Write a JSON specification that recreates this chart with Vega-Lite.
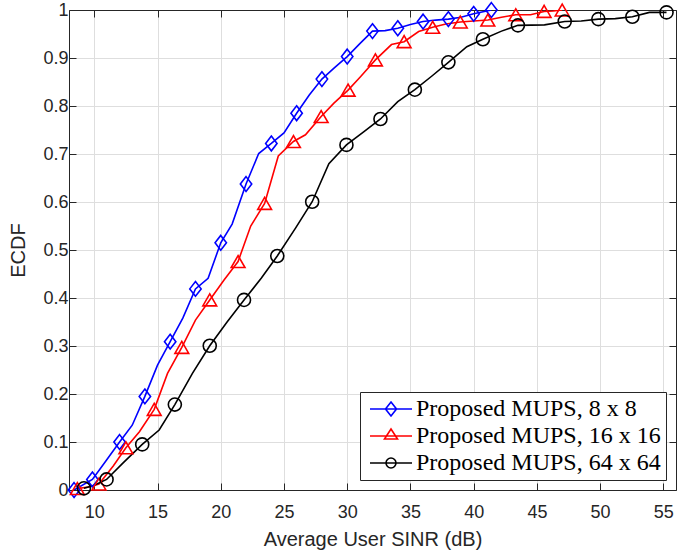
{
  "$schema": "https://vega.github.io/schema/vega-lite/v6.json",
  "width": 607,
  "height": 480,
  "autosize": {"type": "none"},
  "padding": {"left": 69, "top": 10, "right": 2, "bottom": 62},
  "background": "white",
  "config": {
    "view": {"stroke": null},
    "font": "Liberation Sans",
    "axis": {
      "labelFont": "Liberation Sans",
      "titleFont": "Liberation Sans",
      "labelColor": "#262626",
      "titleColor": "#262626",
      "domainColor": "#262626",
      "tickColor": "#262626",
      "labelFontSize": 18,
      "titleFontSize": 20,
      "titleFontWeight": "normal",
      "gridColor": "#dedede",
      "gridWidth": 1,
      "domainWidth": 1
    },
    "legend": {
      "orient": "bottom-right",
      "offset": 10,
      "labelFont": "Liberation Serif",
      "labelFontSize": 24,
      "labelColor": "black",
      "labelLimit": 500,
      "labelOffset": 27,
      "symbolSize": 196,
      "symbolStrokeWidth": 1.6,
      "strokeColor": "#262626",
      "fillColor": "white",
      "padding": 5,
      "rowPadding": 3
    }
  },
  "datasets": {
    "lines": [
      {"series": "Proposed MUPS, 8 x 8", "sinr": 8.4, "ecdf": 0.0},
      {"series": "Proposed MUPS, 8 x 8", "sinr": 9.85, "ecdf": 0.022},
      {"series": "Proposed MUPS, 8 x 8", "sinr": 10.9, "ecdf": 0.06},
      {"series": "Proposed MUPS, 8 x 8", "sinr": 12.0, "ecdf": 0.10},
      {"series": "Proposed MUPS, 8 x 8", "sinr": 13.0, "ecdf": 0.135},
      {"series": "Proposed MUPS, 8 x 8", "sinr": 14.0, "ecdf": 0.195},
      {"series": "Proposed MUPS, 8 x 8", "sinr": 15.0, "ecdf": 0.26},
      {"series": "Proposed MUPS, 8 x 8", "sinr": 16.0, "ecdf": 0.309},
      {"series": "Proposed MUPS, 8 x 8", "sinr": 17.0, "ecdf": 0.358},
      {"series": "Proposed MUPS, 8 x 8", "sinr": 18.0, "ecdf": 0.419},
      {"series": "Proposed MUPS, 8 x 8", "sinr": 19.0, "ecdf": 0.441},
      {"series": "Proposed MUPS, 8 x 8", "sinr": 20.0, "ecdf": 0.515},
      {"series": "Proposed MUPS, 8 x 8", "sinr": 20.9, "ecdf": 0.554},
      {"series": "Proposed MUPS, 8 x 8", "sinr": 22.0, "ecdf": 0.6375},
      {"series": "Proposed MUPS, 8 x 8", "sinr": 23.0, "ecdf": 0.701},
      {"series": "Proposed MUPS, 8 x 8", "sinr": 24.0, "ecdf": 0.722},
      {"series": "Proposed MUPS, 8 x 8", "sinr": 25.0, "ecdf": 0.744},
      {"series": "Proposed MUPS, 8 x 8", "sinr": 26.0, "ecdf": 0.785},
      {"series": "Proposed MUPS, 8 x 8", "sinr": 27.0, "ecdf": 0.823},
      {"series": "Proposed MUPS, 8 x 8", "sinr": 28.0, "ecdf": 0.856},
      {"series": "Proposed MUPS, 8 x 8", "sinr": 29.0, "ecdf": 0.88},
      {"series": "Proposed MUPS, 8 x 8", "sinr": 30.0, "ecdf": 0.903},
      {"series": "Proposed MUPS, 8 x 8", "sinr": 31.0, "ecdf": 0.93},
      {"series": "Proposed MUPS, 8 x 8", "sinr": 32.0, "ecdf": 0.956},
      {"series": "Proposed MUPS, 8 x 8", "sinr": 33.0, "ecdf": 0.957},
      {"series": "Proposed MUPS, 8 x 8", "sinr": 34.0, "ecdf": 0.962},
      {"series": "Proposed MUPS, 8 x 8", "sinr": 35.0, "ecdf": 0.97},
      {"series": "Proposed MUPS, 8 x 8", "sinr": 36.0, "ecdf": 0.976},
      {"series": "Proposed MUPS, 8 x 8", "sinr": 37.0, "ecdf": 0.979},
      {"series": "Proposed MUPS, 8 x 8", "sinr": 38.0, "ecdf": 0.981},
      {"series": "Proposed MUPS, 8 x 8", "sinr": 39.0, "ecdf": 0.985},
      {"series": "Proposed MUPS, 8 x 8", "sinr": 40.0, "ecdf": 0.992},
      {"series": "Proposed MUPS, 8 x 8", "sinr": 41.4, "ecdf": 1.0},
      {"series": "Proposed MUPS, 16 x 16", "sinr": 8.66, "ecdf": 0.003},
      {"series": "Proposed MUPS, 16 x 16", "sinr": 9.5, "ecdf": 0.006},
      {"series": "Proposed MUPS, 16 x 16", "sinr": 10.37, "ecdf": 0.0125},
      {"series": "Proposed MUPS, 16 x 16", "sinr": 11.5, "ecdf": 0.05},
      {"series": "Proposed MUPS, 16 x 16", "sinr": 12.5, "ecdf": 0.088},
      {"series": "Proposed MUPS, 16 x 16", "sinr": 13.57, "ecdf": 0.1215},
      {"series": "Proposed MUPS, 16 x 16", "sinr": 14.74, "ecdf": 0.168},
      {"series": "Proposed MUPS, 16 x 16", "sinr": 15.79, "ecdf": 0.243},
      {"series": "Proposed MUPS, 16 x 16", "sinr": 16.92, "ecdf": 0.297},
      {"series": "Proposed MUPS, 16 x 16", "sinr": 18.0, "ecdf": 0.354},
      {"series": "Proposed MUPS, 16 x 16", "sinr": 19.13, "ecdf": 0.396},
      {"series": "Proposed MUPS, 16 x 16", "sinr": 20.26, "ecdf": 0.4375},
      {"series": "Proposed MUPS, 16 x 16", "sinr": 21.37, "ecdf": 0.476},
      {"series": "Proposed MUPS, 16 x 16", "sinr": 22.37, "ecdf": 0.55},
      {"series": "Proposed MUPS, 16 x 16", "sinr": 23.47, "ecdf": 0.597},
      {"series": "Proposed MUPS, 16 x 16", "sinr": 24.55, "ecdf": 0.696},
      {"series": "Proposed MUPS, 16 x 16", "sinr": 25.75, "ecdf": 0.726},
      {"series": "Proposed MUPS, 16 x 16", "sinr": 26.7, "ecdf": 0.74},
      {"series": "Proposed MUPS, 16 x 16", "sinr": 27.94, "ecdf": 0.778},
      {"series": "Proposed MUPS, 16 x 16", "sinr": 28.95, "ecdf": 0.806},
      {"series": "Proposed MUPS, 16 x 16", "sinr": 30.07, "ecdf": 0.833},
      {"series": "Proposed MUPS, 16 x 16", "sinr": 31.05, "ecdf": 0.861},
      {"series": "Proposed MUPS, 16 x 16", "sinr": 32.23, "ecdf": 0.896},
      {"series": "Proposed MUPS, 16 x 16", "sinr": 33.5, "ecdf": 0.928},
      {"series": "Proposed MUPS, 16 x 16", "sinr": 34.5, "ecdf": 0.934},
      {"series": "Proposed MUPS, 16 x 16", "sinr": 35.65, "ecdf": 0.955},
      {"series": "Proposed MUPS, 16 x 16", "sinr": 36.76, "ecdf": 0.964},
      {"series": "Proposed MUPS, 16 x 16", "sinr": 37.8, "ecdf": 0.971},
      {"series": "Proposed MUPS, 16 x 16", "sinr": 38.94, "ecdf": 0.975},
      {"series": "Proposed MUPS, 16 x 16", "sinr": 40.0, "ecdf": 0.977},
      {"series": "Proposed MUPS, 16 x 16", "sinr": 41.12, "ecdf": 0.979},
      {"series": "Proposed MUPS, 16 x 16", "sinr": 42.2, "ecdf": 0.985},
      {"series": "Proposed MUPS, 16 x 16", "sinr": 43.33, "ecdf": 0.99},
      {"series": "Proposed MUPS, 16 x 16", "sinr": 44.5, "ecdf": 0.99},
      {"series": "Proposed MUPS, 16 x 16", "sinr": 45.57, "ecdf": 0.997},
      {"series": "Proposed MUPS, 16 x 16", "sinr": 46.3, "ecdf": 0.998},
      {"series": "Proposed MUPS, 16 x 16", "sinr": 47.0, "ecdf": 1.0},
      {"series": "Proposed MUPS, 64 x 64", "sinr": 9.18, "ecdf": 0.0035},
      {"series": "Proposed MUPS, 64 x 64", "sinr": 10.0, "ecdf": 0.01},
      {"series": "Proposed MUPS, 64 x 64", "sinr": 10.97, "ecdf": 0.022},
      {"series": "Proposed MUPS, 64 x 64", "sinr": 12.24, "ecdf": 0.0556},
      {"series": "Proposed MUPS, 64 x 64", "sinr": 13.79, "ecdf": 0.095},
      {"series": "Proposed MUPS, 64 x 64", "sinr": 15.13, "ecdf": 0.125},
      {"series": "Proposed MUPS, 64 x 64", "sinr": 16.37, "ecdf": 0.178},
      {"series": "Proposed MUPS, 64 x 64", "sinr": 17.76, "ecdf": 0.243},
      {"series": "Proposed MUPS, 64 x 64", "sinr": 19.13, "ecdf": 0.3006},
      {"series": "Proposed MUPS, 64 x 64", "sinr": 20.5, "ecdf": 0.35},
      {"series": "Proposed MUPS, 64 x 64", "sinr": 21.84, "ecdf": 0.396},
      {"series": "Proposed MUPS, 64 x 64", "sinr": 23.2, "ecdf": 0.441},
      {"series": "Proposed MUPS, 64 x 64", "sinr": 24.47, "ecdf": 0.4875},
      {"series": "Proposed MUPS, 64 x 64", "sinr": 25.9, "ecdf": 0.545},
      {"series": "Proposed MUPS, 64 x 64", "sinr": 27.23, "ecdf": 0.6006},
      {"series": "Proposed MUPS, 64 x 64", "sinr": 28.55, "ecdf": 0.68},
      {"series": "Proposed MUPS, 64 x 64", "sinr": 29.94, "ecdf": 0.719},
      {"series": "Proposed MUPS, 64 x 64", "sinr": 31.3, "ecdf": 0.746},
      {"series": "Proposed MUPS, 64 x 64", "sinr": 32.63, "ecdf": 0.773},
      {"series": "Proposed MUPS, 64 x 64", "sinr": 34.0, "ecdf": 0.809},
      {"series": "Proposed MUPS, 64 x 64", "sinr": 35.35, "ecdf": 0.834},
      {"series": "Proposed MUPS, 64 x 64", "sinr": 36.7, "ecdf": 0.8625},
      {"series": "Proposed MUPS, 64 x 64", "sinr": 38.0, "ecdf": 0.891},
      {"series": "Proposed MUPS, 64 x 64", "sinr": 39.46, "ecdf": 0.9235},
      {"series": "Proposed MUPS, 64 x 64", "sinr": 40.73, "ecdf": 0.939},
      {"series": "Proposed MUPS, 64 x 64", "sinr": 42.2, "ecdf": 0.956},
      {"series": "Proposed MUPS, 64 x 64", "sinr": 43.5, "ecdf": 0.968},
      {"series": "Proposed MUPS, 64 x 64", "sinr": 45.6, "ecdf": 0.969},
      {"series": "Proposed MUPS, 64 x 64", "sinr": 47.2, "ecdf": 0.976},
      {"series": "Proposed MUPS, 64 x 64", "sinr": 48.5, "ecdf": 0.977},
      {"series": "Proposed MUPS, 64 x 64", "sinr": 49.86, "ecdf": 0.981},
      {"series": "Proposed MUPS, 64 x 64", "sinr": 51.2, "ecdf": 0.982},
      {"series": "Proposed MUPS, 64 x 64", "sinr": 52.55, "ecdf": 0.986},
      {"series": "Proposed MUPS, 64 x 64", "sinr": 53.9, "ecdf": 0.995},
      {"series": "Proposed MUPS, 64 x 64", "sinr": 55.25, "ecdf": 0.995}
    ],
    "markers": [
      {"series": "Proposed MUPS, 8 x 8", "sinr": 8.4, "ecdf": 0.0},
      {"series": "Proposed MUPS, 8 x 8", "sinr": 9.85, "ecdf": 0.022},
      {"series": "Proposed MUPS, 8 x 8", "sinr": 12.0, "ecdf": 0.10},
      {"series": "Proposed MUPS, 8 x 8", "sinr": 14.0, "ecdf": 0.195},
      {"series": "Proposed MUPS, 8 x 8", "sinr": 16.0, "ecdf": 0.309},
      {"series": "Proposed MUPS, 8 x 8", "sinr": 18.0, "ecdf": 0.419},
      {"series": "Proposed MUPS, 8 x 8", "sinr": 20.0, "ecdf": 0.515},
      {"series": "Proposed MUPS, 8 x 8", "sinr": 22.0, "ecdf": 0.6375},
      {"series": "Proposed MUPS, 8 x 8", "sinr": 24.0, "ecdf": 0.722},
      {"series": "Proposed MUPS, 8 x 8", "sinr": 26.0, "ecdf": 0.785},
      {"series": "Proposed MUPS, 8 x 8", "sinr": 28.0, "ecdf": 0.856},
      {"series": "Proposed MUPS, 8 x 8", "sinr": 30.0, "ecdf": 0.903},
      {"series": "Proposed MUPS, 8 x 8", "sinr": 32.0, "ecdf": 0.956},
      {"series": "Proposed MUPS, 8 x 8", "sinr": 34.0, "ecdf": 0.962},
      {"series": "Proposed MUPS, 8 x 8", "sinr": 36.0, "ecdf": 0.976},
      {"series": "Proposed MUPS, 8 x 8", "sinr": 38.0, "ecdf": 0.981},
      {"series": "Proposed MUPS, 8 x 8", "sinr": 40.0, "ecdf": 0.992},
      {"series": "Proposed MUPS, 8 x 8", "sinr": 41.4, "ecdf": 1.0},
      {"series": "Proposed MUPS, 16 x 16", "sinr": 8.66, "ecdf": 0.003},
      {"series": "Proposed MUPS, 16 x 16", "sinr": 10.37, "ecdf": 0.0125},
      {"series": "Proposed MUPS, 16 x 16", "sinr": 12.5, "ecdf": 0.088},
      {"series": "Proposed MUPS, 16 x 16", "sinr": 14.74, "ecdf": 0.168},
      {"series": "Proposed MUPS, 16 x 16", "sinr": 16.92, "ecdf": 0.297},
      {"series": "Proposed MUPS, 16 x 16", "sinr": 19.13, "ecdf": 0.396},
      {"series": "Proposed MUPS, 16 x 16", "sinr": 21.37, "ecdf": 0.476},
      {"series": "Proposed MUPS, 16 x 16", "sinr": 23.47, "ecdf": 0.597},
      {"series": "Proposed MUPS, 16 x 16", "sinr": 25.75, "ecdf": 0.726},
      {"series": "Proposed MUPS, 16 x 16", "sinr": 27.94, "ecdf": 0.778},
      {"series": "Proposed MUPS, 16 x 16", "sinr": 30.07, "ecdf": 0.833},
      {"series": "Proposed MUPS, 16 x 16", "sinr": 32.23, "ecdf": 0.896},
      {"series": "Proposed MUPS, 16 x 16", "sinr": 34.5, "ecdf": 0.934},
      {"series": "Proposed MUPS, 16 x 16", "sinr": 36.76, "ecdf": 0.964},
      {"series": "Proposed MUPS, 16 x 16", "sinr": 38.94, "ecdf": 0.975},
      {"series": "Proposed MUPS, 16 x 16", "sinr": 41.12, "ecdf": 0.979},
      {"series": "Proposed MUPS, 16 x 16", "sinr": 43.33, "ecdf": 0.99},
      {"series": "Proposed MUPS, 16 x 16", "sinr": 45.57, "ecdf": 0.997},
      {"series": "Proposed MUPS, 16 x 16", "sinr": 47.0, "ecdf": 1.0},
      {"series": "Proposed MUPS, 64 x 64", "sinr": 9.18, "ecdf": 0.0035},
      {"series": "Proposed MUPS, 64 x 64", "sinr": 10.97, "ecdf": 0.022},
      {"series": "Proposed MUPS, 64 x 64", "sinr": 13.79, "ecdf": 0.095},
      {"series": "Proposed MUPS, 64 x 64", "sinr": 16.37, "ecdf": 0.178},
      {"series": "Proposed MUPS, 64 x 64", "sinr": 19.13, "ecdf": 0.3006},
      {"series": "Proposed MUPS, 64 x 64", "sinr": 21.84, "ecdf": 0.396},
      {"series": "Proposed MUPS, 64 x 64", "sinr": 24.47, "ecdf": 0.4875},
      {"series": "Proposed MUPS, 64 x 64", "sinr": 27.23, "ecdf": 0.6006},
      {"series": "Proposed MUPS, 64 x 64", "sinr": 29.94, "ecdf": 0.719},
      {"series": "Proposed MUPS, 64 x 64", "sinr": 32.63, "ecdf": 0.773},
      {"series": "Proposed MUPS, 64 x 64", "sinr": 35.35, "ecdf": 0.834},
      {"series": "Proposed MUPS, 64 x 64", "sinr": 38.0, "ecdf": 0.891},
      {"series": "Proposed MUPS, 64 x 64", "sinr": 40.73, "ecdf": 0.939},
      {"series": "Proposed MUPS, 64 x 64", "sinr": 43.5, "ecdf": 0.968},
      {"series": "Proposed MUPS, 64 x 64", "sinr": 47.2, "ecdf": 0.976},
      {"series": "Proposed MUPS, 64 x 64", "sinr": 49.86, "ecdf": 0.981},
      {"series": "Proposed MUPS, 64 x 64", "sinr": 52.55, "ecdf": 0.986},
      {"series": "Proposed MUPS, 64 x 64", "sinr": 55.25, "ecdf": 0.995}
    ]
  },
  "resolve": {"axis": {"x": "independent", "y": "independent"}},
  "layer": [
    {
      "data": {"name": "lines"},
      "mark": {"type": "line", "strokeWidth": 1.6, "clip": true},
      "encoding": {
        "x": {
          "field": "sinr", "type": "quantitative",
          "scale": {"domain": [8, 56], "nice": false, "zero": false},
          "axis": {
            "orient": "bottom",
            "title": "Average User SINR (dB)",
            "values": [10, 15, 20, 25, 30, 35, 40, 45, 50, 55],
            "grid": true,
            "tickSize": -7,
            "labelPadding": 20,
            "titlePadding": 8
          }
        },
        "y": {
          "field": "ecdf", "type": "quantitative",
          "scale": {"domain": [0, 1], "nice": false, "zero": false},
          "axis": {
            "orient": "left",
            "title": "ECDF",
            "values": [0, 0.1, 0.2, 0.3, 0.4, 0.5, 0.6, 0.7, 0.8, 0.9, 1],
            "format": ".1~f",
            "grid": true,
            "tickSize": -7,
            "labelPadding": 8,
            "titlePadding": 14
          }
        },
        "color": {
          "field": "series", "type": "nominal",
          "scale": {
            "domain": ["Proposed MUPS, 8 x 8", "Proposed MUPS, 16 x 16", "Proposed MUPS, 64 x 64"],
            "range": ["#0000ff", "#ff0000", "#000000"]
          },
          "legend": {
            "title": null,
            "encode": {
              "symbols": {
                "update": {
                  "shape": {"signal": "datum.value === 'Proposed MUPS, 8 x 8' ? 'M-1,0L5,0M2,-1L2.79,0L2,1L1.21,0Z' : datum.value === 'Proposed MUPS, 16 x 16' ? 'M-1,0L5,0M2,-1L2.93,0.43L1.07,0.43Z' : 'M-1,0L5,0M2.71,0A0.71,0.71,0,1,1,1.29,0A0.71,0.71,0,1,1,2.71,0Z'"},
                  "fill": {"value": "transparent"},
                  "strokeWidth": {"value": 1.6}
                }
              }
            }
          }
        },
        "order": {"field": "sinr", "type": "quantitative"}
      }
    },
    {
      "data": {"name": "markers"},
      "transform": [{"filter": "datum.series === 'Proposed MUPS, 8 x 8'"}],
      "mark": {"type": "point", "shape": "M0,-1.1L0.85,0L0,1.1L-0.85,0Z", "filled": false, "strokeWidth": 1.6, "opacity": 1, "size": 180, "color": "#0000ff"},
      "encoding": {
        "x": {
          "field": "sinr", "type": "quantitative",
          "axis": {
            "orient": "top", "title": null, "labels": false, "grid": false,
            "values": [10, 15, 20, 25, 30, 35, 40, 45, 50, 55],
            "tickSize": -7
          }
        },
        "y": {
          "field": "ecdf", "type": "quantitative",
          "axis": {
            "orient": "right", "title": null, "labels": false, "grid": false,
            "values": [0, 0.1, 0.2, 0.3, 0.4, 0.5, 0.6, 0.7, 0.8, 0.9, 1],
            "tickSize": -7
          }
        }
      }
    },
    {
      "data": {"name": "markers"},
      "transform": [{"filter": "datum.series === 'Proposed MUPS, 16 x 16'"}],
      "mark": {"type": "point", "shape": "triangle-up", "filled": false, "strokeWidth": 1.6, "opacity": 1, "size": 190, "color": "#ff0000"},
      "encoding": {
        "x": {"field": "sinr", "type": "quantitative", "axis": null},
        "y": {"field": "ecdf", "type": "quantitative", "axis": null}
      }
    },
    {
      "data": {"name": "markers"},
      "transform": [{"filter": "datum.series === 'Proposed MUPS, 64 x 64'"}],
      "mark": {"type": "point", "shape": "circle", "filled": false, "strokeWidth": 1.6, "opacity": 1, "size": 170, "color": "#000000"},
      "encoding": {
        "x": {"field": "sinr", "type": "quantitative", "axis": null},
        "y": {"field": "ecdf", "type": "quantitative", "axis": null}
      }
    }
  ]
}
